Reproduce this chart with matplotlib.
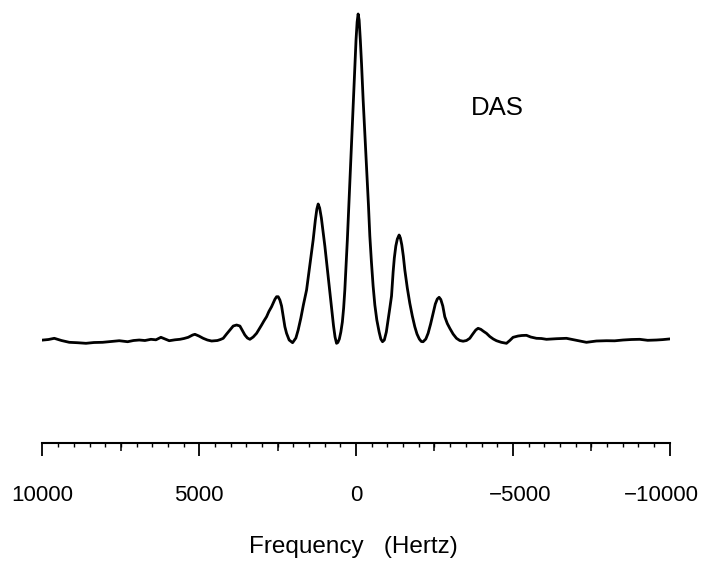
import matplotlib
matplotlib.use("Agg")
import matplotlib.pyplot as plt
from matplotlib.ticker import MultipleLocator
from matplotlib.transforms import ScaledTranslation

plt.rcParams['font.family'] = ['Liberation Sans', 'DejaVu Sans']

# spectrum trace: frequency (Hz) and intensity (arb. units)
freq_hz = [9974, 9808, 9623, 9394, 9145, 8884, 8613, 8358, 8081, 7816,
           7552, 7284, 7099, 6914, 6733, 6541, 6382, 6223, 6095, 5958,
           5776, 5617, 5490, 5353, 5212, 5139, 5012, 4875, 4741, 4607,
           4422, 4326, 4237, 4129, 4024, 3918, 3810, 3705, 3625, 3546,
           3466, 3386, 3281, 3173, 3099, 3013, 2940, 2854, 2781, 2695,
           2637, 2589, 2535, 2484, 2430, 2376, 2325, 2271, 2217, 2134,
           2025, 1920, 1847, 1761, 1681, 1579, 1474, 1369, 1299, 1251,
           1209, 1162, 1107, 1050, 996, 916, 837, 773, 719, 671,
           623, 582, 534, 486, 438, 397, 359, 327, 279, 231,
           183, 135, 88, 40, 2, -33, -65, -97, -135, -174,
           -225, -279, -317, -352, -394, -438, -489, -543, -598, -661,
           -735, -789, -843, -900, -964, -1021, -1076, -1130, -1155, -1181,
           -1219, -1267, -1315, -1372, -1413, -1458, -1506, -1554, -1633, -1713,
           -1793, -1872, -1942, -2016, -2080, -2137, -2223, -2296, -2376, -2456,
           -2526, -2589, -2647, -2701, -2765, -2828, -2908, -2988, -3093, -3201,
           -3307, -3412, -3520, -3625, -3721, -3816, -3890, -3976, -4071, -4157,
           -4263, -4374, -4476, -4629, -4795, -4900, -5005, -5165, -5282, -5432,
           -5569, -5751, -5910, -6070, -6388, -6707, -7026, -7344, -7663, -7982,
           -8246, -8511, -8779, -9043, -9298, -9575, -9776, -9977]
intensity = [1.0, 1.5, 2.7, 0.5, -1.3, -1.7, -2.3, -1.5, -1.3, -0.5,
             0.3, -0.7, 0.5, 1.0, 0.5, 1.7, 1.2, 3.7, 2.0, 0.3,
             1.2, 1.7, 2.5, 3.7, 6.0, 6.7, 5.0, 2.7, 1.0, 0.0,
             0.5, 1.5, 2.7, 7.0, 11.0, 15.0, 16.0, 15.0, 10.5, 6.0,
             3.0, 1.7, 4.0, 7.7, 11.5, 16.0, 20.0, 24.3, 29.5, 34.3,
             38.5, 41.7, 44.3, 44.3, 41.0, 35.0, 25.0, 14.3, 7.7, 1.0,
             -1.7, 3.0, 11.0, 23.0, 36.0, 51.0, 76.0, 101.0, 121.0, 132.0,
             137.0, 133.0, 123.0, 109.0, 95.0, 72.0, 49.0, 31.0, 15.0, 4.0,
             -2.3, -1.5, 2.0, 9.0, 19.0, 33.0, 51.0, 71.0, 101.0, 136.0,
             171.0, 206.0, 241.0, 274.0, 301.0, 319.0, 327.0, 321.0, 301.0, 277.0,
             241.0, 208.0, 186.0, 164.0, 136.0, 105.0, 79.0, 55.0, 36.0, 21.0,
             9.0, 2.0, -0.7, 1.0, 9.0, 21.0, 33.0, 45.0, 57.0, 69.0,
             83.0, 95.0, 102.0, 106.0, 103.0, 96.0, 85.0, 71.0, 53.0, 37.7,
             25.0, 14.3, 7.0, 2.0, -0.5, -0.7, 2.0, 7.7, 17.0, 27.7,
             37.0, 42.0, 43.7, 41.5, 35.0, 24.3, 17.5, 12.7, 7.0, 2.7,
             0.5, -0.2, 0.5, 2.7, 7.0, 11.0, 12.7, 11.7, 9.5, 7.7,
             4.5, 2.0, 0.3, -1.3, -2.3, 0.5, 3.7, 5.0, 5.5, 5.7,
             4.0, 2.7, 2.5, 1.7, 2.3, 2.7, 0.7, -1.3, 0.0, 0.3,
             0.2, 1.0, 1.5, 1.7, 0.7, 1.0, 1.4, 2.0]

major_ticks = [10000, 5000, 0, -5000, -10000]
tick_labels = ['10000', '5000', '0', '\u22125000', '\u221210000']
medium_ticks = [7500, 2500, -2500, -7500]

fig = plt.figure(figsize=(7.02, 5.61), dpi=100)
ax = fig.add_axes([0.0605, 0.2103, 0.8935, 0.7719])

ax.plot(freq_hz, intensity, color='black', lw=2.0, solid_joinstyle='round')

ax.set_xlim(10000, -10000)
ax.set_ylim(-102, 331)

for side in ['top', 'left', 'right']:
    ax.spines[side].set_visible(False)
ax.spines['bottom'].set_linewidth(1.5)
ax.set_yticks([])

ax.set_xticks(major_ticks)
ax.set_xticklabels(tick_labels, fontsize=16)
ax.xaxis.set_minor_locator(MultipleLocator(500))
ax.tick_params(axis='x', which='major', length=9, width=1.3, pad=21)
ax.tick_params(axis='x', which='minor', length=3, width=1.0)

# negative labels: digits roughly centred under the tick, minus sign hangs left
# (the last one is pulled in so it stays inside the figure)
for lab in ax.get_xticklabels():
    txt = lab.get_text()
    if txt == '\u221210000':
        lab.set_transform(lab.get_transform() +
                          ScaledTranslation(-0.08, 0, fig.dpi_scale_trans))
    elif txt.startswith('\u2212'):
        lab.set_transform(lab.get_transform() +
                          ScaledTranslation(0.068, 0, fig.dpi_scale_trans))

# medium ticks every 2500 Hz
sec = ax.secondary_xaxis('bottom')
sec.set_xticks(medium_ticks)
sec.set_xticklabels([])
sec.tick_params(length=6, width=1.1)
sec.spines['bottom'].set_visible(False)

fig.text(0.504, 0.0134, 'Frequency   (Hertz)', fontsize=17.5,
         ha='center', va='baseline')

ax.text(-4518, 232.5, 'DAS', fontsize=18.5, ha='center', va='center')

fig.savefig('out.png', dpi=100)
